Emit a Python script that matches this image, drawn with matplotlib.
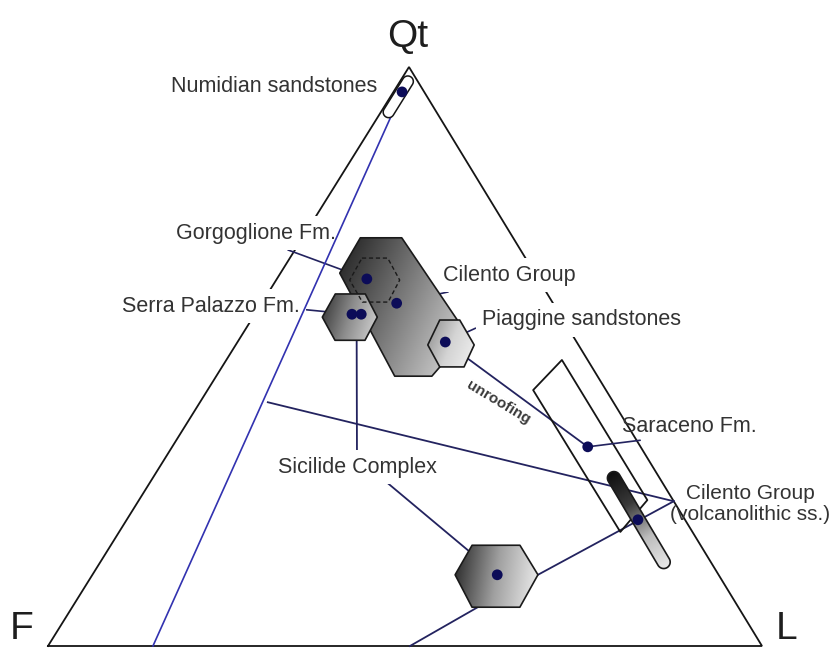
import numpy as np
import matplotlib
matplotlib.use("Agg")
import matplotlib.pyplot as plt
from matplotlib.patches import Polygon
from matplotlib.colors import LinearSegmentedColormap

plt.rcParams['font.family'] = ['Liberation Sans', 'DejaVu Sans']

# ---- QFL data, percent (Qt, F, L) ----
# mean compositions (dots)
pt_name = ["Numidian", "Gorgoglione", "Cilento", "Serra a", "Serra b",
           "Piaggine", "Saraceno", "Cilento volc", "Sicilide"]
pt_qt = [95.7, 63.4, 59.2, 57.3, 57.3, 52.5, 34.4, 21.8, 12.3]
pt_f = [3.1, 24.0, 21.9, 29.1, 27.8, 18.4, 7.4, 6.6, 31.0]
pt_l = [1.2, 12.6, 18.9, 13.6, 14.9, 29.1, 58.2, 71.6, 56.7]

# compositional fields (vertices as Qt, L; F = 100 - Qt - L)
cilento_qt = [70.5, 70.5, 53.7, 46.6, 46.6, 64.4]
cilento_l = [8.1, 13.9, 31.6, 30.2, 25.0, 8.3]
gorgo_qt = [67.0, 67.0, 63.2, 59.4, 59.4, 63.2]
gorgo_l = [10.1, 13.7, 17.3, 17.6, 14.0, 10.3]
serra_qt = [56.8, 60.8, 60.8, 56.8, 52.8, 52.8]
serra_l = [9.7, 9.5, 13.7, 17.4, 17.7, 13.5]
piagg_qt = [56.3, 56.3, 52.0, 48.2, 48.2, 52.0]
piagg_l = [26.4, 29.2, 33.4, 33.9, 30.5, 26.9]
sicil_qt = [12.3, 17.4, 17.4, 12.3, 6.7, 6.7]
sicil_l = [50.8, 50.6, 57.3, 62.4, 62.7, 56.0]
sarac_qt = [44.2, 49.4, 25.2, 19.7]
sarac_l = [45.6, 47.0, 71.2, 70.2]
# elongated fields (axis end points)
numid_qt = [97.5, 92.2]
numid_l = [1.1, 1.1]
volc_qt = [29.0, 14.5]
volc_l = [64.6, 78.9]

# tie lines (start, end) as Qt, L
tie_qt = [(42.1, 25.0), (12.3, 25.0), (6.7, 0.0)]
tie_l = [(9.5, 75.0), (62.4, 75.0), (56.8, 50.7)]
blue_qt = [95.7, 0.0]
blue_l = [1.2, 14.7]

# ---- layout ----
W, H = 835, 648
VERT_F = (48, 646)
VERT_L = (762, 646)
VERT_Q = (409, 67)
TEXT = '#333333'
NAVY = '#23235f'
FS = 15.5


def tern(qt, l):
    qt = np.asarray(qt, float) / 100
    l = np.asarray(l, float) / 100
    f = 1 - qt - l
    x = f * VERT_F[0] + l * VERT_L[0] + qt * VERT_Q[0]
    y = f * VERT_F[1] + l * VERT_L[1] + qt * VERT_Q[1]
    return x, y


def stadium(p0, p1, r, n=30):
    p0, p1 = np.array(p0), np.array(p1)
    u = (p1 - p0) / np.linalg.norm(p1 - p0)
    a = np.arctan2(u[1], u[0])
    a1 = np.linspace(a - np.pi / 2, a + np.pi / 2, n)
    a0 = np.linspace(a + np.pi / 2, a + 3 * np.pi / 2, n)
    return np.vstack([p1 + r * np.column_stack([np.cos(a1), np.sin(a1)]),
                      p0 + r * np.column_stack([np.cos(a0), np.sin(a0)])])


def gradient_field(verts, colors, direction, z, ls='-'):
    poly = Polygon(verts, closed=True, facecolor='none', edgecolor='#1a1a1a',
                   lw=1.2, ls=ls, zorder=z + 0.05, joinstyle='round')
    ax.add_patch(poly)
    xmin, ymin = verts.min(axis=0)
    xmax, ymax = verts.max(axis=0)
    gx, gy = np.meshgrid(np.linspace(xmin, xmax, 200), np.linspace(ymin, ymax, 200))
    t = (gx - xmin) * direction[0] + (gy - ymin) * direction[1]
    t = (t - t.min()) / (t.max() - t.min())
    cmap = LinearSegmentedColormap.from_list('g', colors)
    im = ax.imshow(t, extent=(xmin, xmax, ymin, ymax), origin='lower', cmap=cmap,
                   aspect='auto', interpolation='bilinear', zorder=z)
    im.set_clip_path(poly)


fig = plt.figure(figsize=(W / 100, H / 100), dpi=100)
ax = fig.add_axes([0, 0, 1, 1])
ax.axis('off')

# triangle
tx, ty = tern([0, 100, 0, 0], [0, 0, 100, 0])
ax.plot(tx, ty, color='#151515', lw=1.3, zorder=1, solid_joinstyle='miter')

# lines
bx, by = tern(blue_qt, blue_l)
ax.plot(bx, by, color='#3232b0', lw=1.2, zorder=2.7)
for q, l in zip(tie_qt, tie_l):
    x, y = tern(q, l)
    ax.plot(x, y, color=NAVY, lw=1.3, zorder=2)

px, py = tern(pt_qt, pt_l)
# unroofing trend Piaggine -> Saraceno
ax.plot([px[5], px[6]], [py[5], py[6]], color=NAVY, lw=1.3, zorder=2)

# fields
gradient_field(np.column_stack(tern(cilento_qt, cilento_l)),
               ['#1e1e1e', '#808080', '#e2e2e2'], (1, 0.45), 3)
gradient_field(np.column_stack(tern(serra_qt, serra_l)),
               ['#303030', '#8c8c8c', '#d6d6d6'], (1, 0.3), 3.2)
gradient_field(np.column_stack(tern(piagg_qt, piagg_l)),
               ['#8c8c8c', '#d4d4d4', '#f2f2f2'], (1, 0.4), 3.3)
gradient_field(np.column_stack(tern(sicil_qt, sicil_l)),
               ['#262626', '#a0a0a0', '#f0f0f0'], (1, 0.15), 3)
gx_, gy_ = tern(gorgo_qt, gorgo_l)
ax.add_patch(Polygon(np.column_stack([gx_, gy_]), closed=True, fill=False,
                     edgecolor='#1a1a1a', lw=1.0, ls=(0, (3, 2)), zorder=3.5))

sx, sy = tern(sarac_qt, sarac_l)
ax.add_patch(Polygon(np.column_stack([sx, sy]), closed=True, fill=False,
                     edgecolor='#151515', lw=1.3, joinstyle='round', zorder=3))

nx, ny = tern(numid_qt, numid_l)
ax.add_patch(Polygon(stadium((nx[0], ny[0]), (nx[1], ny[1]), 5.5), closed=True,
                     facecolor='white', edgecolor='#151515', lw=1.1, zorder=3))

vx, vy = tern(volc_qt, volc_l)
gradient_field(stadium((vx[0], vy[0]), (vx[1], vy[1]), 6.5),
               ['#0c0c0c', '#3a3a3a', '#bdbdbd', '#ececec'],
               (vx[1] - vx[0], vy[1] - vy[0]), 3.4)

# mean points
ax.scatter(px, py, s=60, color='#0c0c58', edgecolors='none', zorder=6)

# labels
box = dict(boxstyle='square,pad=0.3', fc='white', ec='none')
lead = dict(arrowstyle='-', color=NAVY, lw=1.2, shrinkA=0, shrinkB=0)

ax.text(377, 87, 'Numidian sandstones', ha='right', va='center', fontsize=FS,
        color=TEXT, bbox=box, zorder=2.5)
ax.annotate('Gorgoglione Fm.', xy=(px[1], py[1]), xytext=(256, 233), ha='center',
            va='center', fontsize=FS, color=TEXT, bbox=box, zorder=2.5,
            arrowprops=dict(lead, relpos=(0.59, 0)))
ax.annotate('Serra Palazzo Fm.', xy=(px[3], py[3]), xytext=(300, 306), ha='right',
            va='center', fontsize=FS, color=TEXT, bbox=box, zorder=2.5,
            arrowprops=dict(lead, relpos=(1, 0.35)))
ax.annotate('Cilento Group', xy=(px[2], py[2]), xytext=(443, 275), ha='left',
            va='center', fontsize=FS, color=TEXT, bbox=box, zorder=2.5,
            arrowprops=dict(lead, relpos=(0.26, 0)))
ax.annotate('Piaggine sandstones', xy=(px[5], py[5]), xytext=(482, 320), ha='left',
            va='center', fontsize=FS, color=TEXT, bbox=box, zorder=2.5,
            arrowprops=dict(lead, relpos=(0, 0.25)))
ax.annotate('Saraceno Fm.', xy=(px[6], py[6]), xytext=(622, 427), ha='left',
            va='center', fontsize=FS, color=TEXT, zorder=4,
            arrowprops=dict(lead, relpos=(0.3, 0)))
ax.text(750, 504, 'Cilento Group\n(volcanolithic ss.)', ha='center', va='center',
        fontsize=FS - 0.5, color=TEXT, linespacing=1.1, zorder=4)

# Sicilide Complex label with its two tie lines
sic_lab = (357, 467)
ax.plot([(px[3] + px[4]) / 2, sic_lab[0]], [py[3], sic_lab[1]], color=NAVY, lw=1.3, zorder=2)
ax.plot([372, px[8]], [470, py[8]], color=NAVY, lw=1.3, zorder=2)
ax.text(sic_lab[0], sic_lab[1], 'Sicilide Complex', ha='center', va='center',
        fontsize=FS, color=TEXT, bbox=box, zorder=2.5)

ax.text(498, 402, 'unroofing', ha='center', va='center', rotation=-31,
        fontsize=11, fontweight='bold', color='#3a3a3a', zorder=4)

# apex labels
ax.text(408, 47, 'Qt', ha='center', va='baseline', fontsize=28, color='#1e1e1e')
ax.text(10, 647, 'F', ha='left', va='bottom', fontsize=28, color='#1e1e1e')
ax.text(776, 647, 'L', ha='left', va='bottom', fontsize=28, color='#1e1e1e')

ax.set_xlim(0, W)
ax.set_ylim(H, 0)

plt.savefig('out.png', dpi=100)
